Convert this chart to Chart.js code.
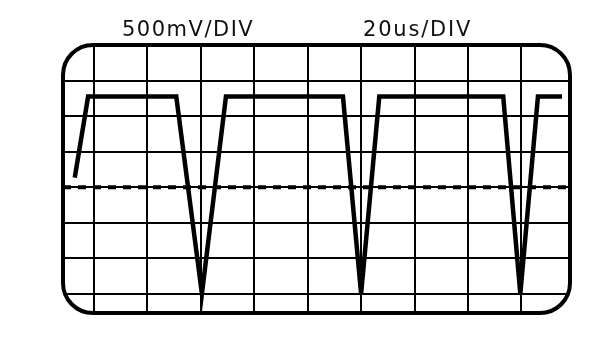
<!DOCTYPE html>
<html>
<head>
<meta charset="utf-8">
<script src="https://cdn.jsdelivr.net/npm/chart.js@4.4.0/dist/chart.umd.min.js"></script>
<style>
    html, body { margin: 0; padding: 0; background: #fff; }
    #contenedor { position: relative; width: 612px; height: 354px; }
</style>
</head>
<body>
<div id="contenedor"><canvas id="graficoOsciloscopio"></canvas></div>
<script>
// Escalas de la pantalla
var etiquetaVertical = '500mV/DIV';
var etiquetaHorizontal = '20us/DIV';

// Lineas de la reticula (en divisiones)
var divisionesX = [0, 1, 2, 3, 4, 5, 6, 7, 8];
var divisionesY = [0, 1, 2, 3, 4, 5, 6];

// Traza de la senal (en divisiones)
var tiempoDiv = [-0.36, -0.11, 1.54, 2.02, 2.47, 4.66, 5.00, 5.34, 7.66, 7.98, 8.31, 8.76];
var tensionDiv = [3.27, 5.55, 5.55, 0, 5.55, 5.55, 0, 5.55, 5.55, 0, 5.55, 5.55];

// Nivel de referencia (linea discontinua)
var nivelReferencia = 3;

(function () {

    var minX = -0.58, maxX = 8.91;
    var minY = -0.54, maxY = 7.0;

    // Puntos de la traza
    var traza = [];
    for (var i = 0; i < tiempoDiv.length; i++) {
        traza.push({ x: tiempoDiv[i], y: tensionDiv[i] });
    }

    // Marco redondeado de la pantalla
    function caminoRedondeado(ctx, x, y, w, h, r) {
        ctx.moveTo(x + r, y);
        ctx.arcTo(x + w, y, x + w, y + h, r);
        ctx.arcTo(x + w, y + h, x, y + h, r);
        ctx.arcTo(x, y + h, x, y, r);
        ctx.arcTo(x, y, x + w, y, r);
        ctx.closePath();
    }

    var marco = {
        id: 'marco',
        afterDraw: function (chart) {
            var ctx = chart.ctx;
            var a = chart.chartArea;
            var w = a.right - a.left, h = a.bottom - a.top;
            ctx.save();
            // tapar las esquinas fuera del marco
            ctx.beginPath();
            ctx.rect(a.left - 3, a.top - 3, w + 6, h + 6);
            caminoRedondeado(ctx, a.left, a.top, w, h, 30);
            ctx.fillStyle = '#fff';
            ctx.fill('evenodd');
            ctx.beginPath();
            caminoRedondeado(ctx, a.left, a.top, w, h, 30);
            ctx.lineWidth = 4;
            ctx.strokeStyle = '#000';
            ctx.stroke();
            // textos de escala
            ctx.fillStyle = '#111';
            ctx.font = '21px "DejaVu Sans"';
            ctx.textBaseline = 'alphabetic';
            ctx.letterSpacing = '1.5px';
            ctx.fillText(etiquetaVertical, 122, 36);
            ctx.letterSpacing = '1.8px';
            ctx.fillText(etiquetaHorizontal, 363, 36);
            ctx.restore();
        }
    };

    var ctx = document.getElementById('graficoOsciloscopio').getContext('2d');
    var grafico = new Chart(ctx, {
        type: 'line',
        data: {
            datasets: [{
                label: 'Referencia',
                data: [{ x: minX, y: nivelReferencia }, { x: maxX, y: nivelReferencia }],
                borderColor: '#000',
                borderWidth: 4,
                borderDash: [8, 7],
                pointRadius: 0
            }, {
                label: 'Senal',
                data: traza,
                borderColor: '#000',
                borderWidth: 4.5,
                borderJoinStyle: 'miter',
                pointRadius: 0,
                tension: 0
            }]
        },
        options: {
            responsive: true,
            maintainAspectRatio: false,
            animation: false,
            layout: { padding: { left: 63, top: 45, right: 42, bottom: 41 } },
            plugins: {
                legend: { display: false },
                tooltip: { enabled: false }
            },
            scales: {
                x: {
                    type: 'linear',
                    min: minX,
                    max: maxX,
                    afterBuildTicks: function (axis) {
                        axis.ticks = divisionesX.map(function (v) { return { value: v }; });
                    },
                    ticks: { display: false },
                    border: { display: false },
                    grid: { color: '#000', lineWidth: 2, drawTicks: false }
                },
                y: {
                    type: 'linear',
                    min: minY,
                    max: maxY,
                    afterBuildTicks: function (axis) {
                        axis.ticks = divisionesY.map(function (v) { return { value: v }; });
                    },
                    ticks: { display: false },
                    border: { display: false },
                    grid: { color: '#000', lineWidth: 2, drawTicks: false }
                }
            }
        },
        plugins: [marco]
    });

})();
</script>
</body>
</html>
